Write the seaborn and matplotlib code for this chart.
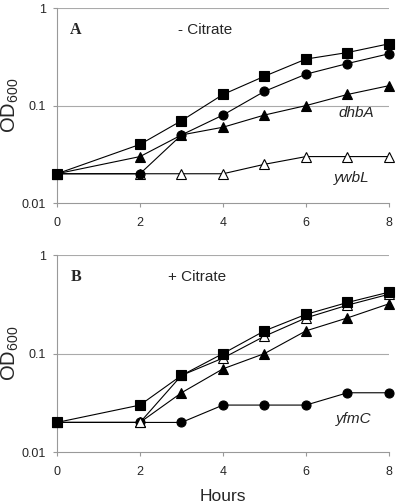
import numpy as np
import pandas as pd
import matplotlib
matplotlib.use("Agg")
import matplotlib.pyplot as plt
import seaborn as sns
from matplotlib.ticker import FixedLocator, FixedFormatter, NullLocator

sns.set_style("white")
plt.rcParams['font.family'] = ['Liberation Sans', 'DejaVu Sans']
plt.rcParams['mathtext.default'] = 'regular'

hours = [0, 2, 3, 4, 5, 6, 7, 8]

# panel A, - citrate
a_square = [0.02, 0.04, 0.07, 0.13, 0.20, 0.30, 0.35, 0.43]
a_circle = [0.02, 0.02, 0.05, 0.08, 0.14, 0.21, 0.27, 0.34]
a_tri = [0.02, 0.03, 0.05, 0.06, 0.08, 0.10, 0.13, 0.16]
a_opentri = [0.02, 0.02, 0.02, 0.02, 0.025, 0.03, 0.03, 0.03]

# panel B, + citrate
b_square = [0.02, 0.03, 0.06, 0.10, 0.17, 0.25, 0.33, 0.42]
b_opentri = [0.02, 0.02, 0.06, 0.09, 0.15, 0.23, 0.31, 0.40]
b_tri = [0.02, 0.02, 0.04, 0.07, 0.10, 0.17, 0.23, 0.32]
b_circle = [0.02, 0.02, 0.02, 0.03, 0.03, 0.03, 0.04, 0.04]

STYLE = {"square": dict(marker="s", ms=7.5, mfc="black"),
         "circle": dict(marker="o", ms=6.5, mfc="black"),
         "tri": dict(marker="^", ms=7, mfc="black"),
         "opentri": dict(marker="^", ms=7, mfc="white")}


def panel(ax, series, letter, title, title_x, labels):
    for kind, vals in series:
        df = pd.DataFrame({"Hours": hours, "OD": vals})
        st = STYLE[kind]
        sns.lineplot(data=df, x="Hours", y="OD", ax=ax, color="black", lw=0.8,
                     marker=st["marker"], markersize=st["ms"], markerfacecolor=st["mfc"],
                     markeredgecolor="black", markeredgewidth=0.8, zorder=3, clip_on=False)
    ax.set_yscale("log")
    ax.set_ylim(0.01, 1)
    ax.set_xlim(0, 8)
    ax.yaxis.set_major_locator(FixedLocator([0.01, 0.1, 1]))
    ax.yaxis.set_major_formatter(FixedFormatter(["0.01", "0.1", "1"]))
    ax.yaxis.set_minor_locator(NullLocator())
    ax.set_xticks([0, 2, 4, 6, 8])
    ax.tick_params(axis="both", labelsize=9, length=3, width=0.8, color="#999999")
    ax.tick_params(axis="x", pad=7)
    ax.tick_params(axis="y", pad=5)
    ax.tick_params(axis="both", which="both", direction="out")
    ax.tick_params(left=True, bottom=True)
    for s in ["top", "right"]:
        ax.spines[s].set_visible(False)
    for s in ["left", "bottom"]:
        ax.spines[s].set_color("#999999")
        ax.spines[s].set_linewidth(0.8)
    for v in [0.1, 1]:
        ax.axhline(v, color="#aaaaaa", lw=0.8, zorder=1)
    ax.set_ylabel("OD$_{600}$", fontsize=14.5)
    ax.yaxis.set_label_coords(-0.108, 0.5)
    ax.set_xlabel("")
    ax.text(0.04, 0.89, letter, transform=ax.transAxes, fontsize=11.5, fontweight="bold",
            family="Liberation Serif", ha="left", va="center")
    ax.text(title_x, 0.89, title, transform=ax.transAxes, fontsize=11, ha="left", va="center")
    for txt, x, y in labels:
        ax.text(x, y, txt, fontsize=11, style="italic", ha="center", va="center")


fig = plt.figure(figsize=(4.0, 5.04), dpi=100)
axA = fig.add_axes([0.1425, 0.597, 0.83, 0.387])
axB = fig.add_axes([0.1425, 0.103, 0.83, 0.391])

panel(axA, [("opentri", a_opentri), ("tri", a_tri), ("circle", a_circle), ("square", a_square)],
      "A", "- Citrate", 0.365, [("dhbA", 7.2, 0.083), ("ywbL", 7.1, 0.018)])
panel(axB, [("circle", b_circle), ("tri", b_tri), ("opentri", b_opentri), ("square", b_square)],
      "B", "+ Citrate", 0.335, [("yfmC", 7.15, 0.0215)])
axB.set_xlabel("Hours", fontsize=12.5)
axB.xaxis.set_label_coords(0.5, -0.185)

fig.savefig("out.png", dpi=100)
